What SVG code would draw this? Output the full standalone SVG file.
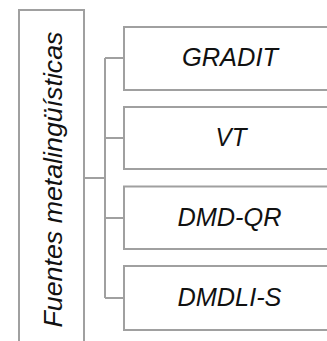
<svg xmlns="http://www.w3.org/2000/svg" width="327" height="341" viewBox="0 0 327 341">
<style>
.box{fill:#fff;stroke:#a0a0a0;stroke-width:2}
.con{fill:none;stroke:#a0a0a0;stroke-width:2}
.t{font-family:"Liberation Sans",Arial,sans-serif;font-style:italic;font-size:25px;fill:#111;text-anchor:middle}
</style>
<rect width="327" height="341" fill="#fff"/>
<g id="connectors">
<path class="con" d="M84 178H105M105 58V298M105 58H124M105 138H124M105 218H124M105 298H124"/>
</g>
<g id="root">
<rect class="box" x="19" y="10" width="65" height="340"/>
<text class="t" transform="translate(62 179.5) rotate(-90)" textLength="296" lengthAdjust="spacingAndGlyphs">Fuentes metalingüísticas</text>
</g>
<g id="n1">
<rect class="box" x="124" y="27" width="215" height="63"/>
<text class="t" x="230" y="66" textLength="96" lengthAdjust="spacingAndGlyphs">GRADIT</text>
</g>
<g id="n2">
<rect class="box" x="124" y="107" width="215" height="62"/>
<text class="t" x="231" y="146" textLength="31" lengthAdjust="spacingAndGlyphs">VT</text>
</g>
<g id="n3">
<rect class="box" x="124" y="186.5" width="215" height="62.5"/>
<text class="t" x="229.5" y="226" textLength="104" lengthAdjust="spacingAndGlyphs">DMD-QR</text>
</g>
<g id="n4">
<rect class="box" x="124" y="266" width="215" height="64"/>
<text class="t" x="229.5" y="306" textLength="104" lengthAdjust="spacingAndGlyphs">DMDLI-S</text>
</g>
</svg>
